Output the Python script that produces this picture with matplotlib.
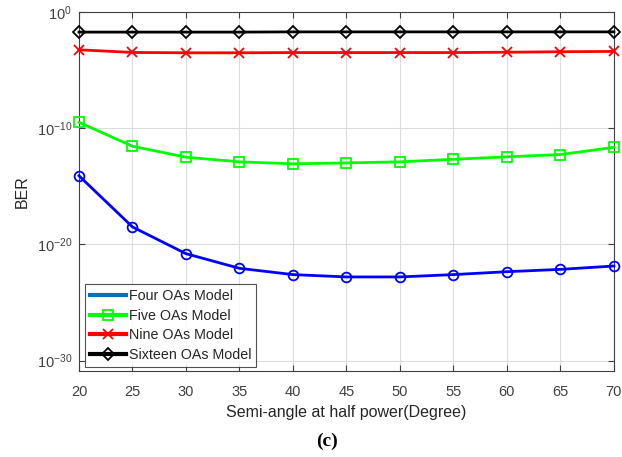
import numpy as np
import matplotlib
matplotlib.use("Agg")
import matplotlib.pyplot as plt
from matplotlib.lines import Line2D

angles = [20, 25, 30, 35, 40, 45, 50, 55, 60, 65, 70]
log_four = [-14.1, -18.5, -20.8, -22.06, -22.6, -22.8, -22.8, -22.6, -22.35, -22.15, -21.86]
log_five = [-9.5, -11.56, -12.5, -12.9, -13.07, -12.99, -12.9, -12.68, -12.47, -12.27, -11.65]
log_nine = [-3.26, -3.49, -3.52, -3.52, -3.5, -3.5, -3.5, -3.5, -3.47, -3.43, -3.4]
log_sixteen = [-1.74, -1.74, -1.74, -1.74, -1.72, -1.72, -1.72, -1.72, -1.72, -1.72, -1.72]
legend_labels = ["Four OAs Model", "Five OAs Model", "Nine OAs Model", "Sixteen OAs Model"]

plt.rcParams['font.family'] = ['Liberation Sans', 'DejaVu Sans']

fig = plt.figure(figsize=(6.22, 4.57), dpi=100)
ax = fig.add_axes([0.127, 0.189, 0.86, 0.785])

to_val = lambda a: 10.0 ** np.array(a)
lw = 2.0
ax.semilogy(angles, to_val(log_four), color='#0000ff', marker='o', ms=7, mfc='none', mew=1.3, lw=lw, clip_on=False, zorder=3)
ax.semilogy(angles, to_val(log_five), color='#00ff00', marker='s', ms=7, mfc='none', mew=1.3, lw=lw, clip_on=False, zorder=3)
ax.semilogy(angles, to_val(log_nine), color='#ff0000', marker='x', ms=7, mew=1.3, lw=lw, clip_on=False, zorder=3)
ax.semilogy(angles, to_val(log_sixteen), color='black', marker='D', ms=6, mfc='none', mew=1.3, lw=lw, clip_on=False, zorder=3)

ax.set_xlim(20, 70)
ax.set_ylim(10 ** -30.86, 1)
ax.set_xticks(angles)
ax.set_yticks([1e-30, 1e-20, 1e-10, 1e0])
ax.yaxis.set_minor_locator(matplotlib.ticker.NullLocator())
ax.grid(True, color='#dcdcdc', lw=0.8)
ax.set_axisbelow(True)
ax.tick_params(direction='in', top=True, right=True, labelsize=10.5, colors='#404040', length=4)
ax.tick_params(axis='x', pad=10)
ax.tick_params(axis='y', pad=5)
for s in ax.spines.values():
    s.set_color('#404040')
    s.set_linewidth(0.8)

ax.set_xlabel("Semi-angle at half power(Degree)", fontsize=11.5, color='#262626', labelpad=5)
ax.set_ylabel("BER", fontsize=11.5, color='#262626', labelpad=5)

handles = [
    Line2D([], [], color='#0072bd', lw=3),
    Line2D([], [], color='#00ff00', lw=3, marker='s', ms=7, mfc='none', mew=1.3),
    Line2D([], [], color='#ff0000', lw=3, marker='x', ms=7, mew=1.3),
    Line2D([], [], color='black', lw=3, marker='D', ms=6, mfc='none', mew=1.3),
]
leg = ax.legend(handles, legend_labels, loc='lower left', bbox_to_anchor=(0.011, 0.011),
                fontsize=10.3, frameon=True, fancybox=False, edgecolor='#262626',
                handlelength=2.5, handletextpad=0.2, borderpad=0.35, labelspacing=0.38,
                borderaxespad=0)
leg.get_frame().set_linewidth(0.8)
for t in leg.get_texts():
    t.set_color('#262626')

fig.text(0.525, 0.035, "(c)", ha='center', va='center', fontsize=14, fontweight='bold',
         family=['Liberation Serif', 'DejaVu Serif'])

fig.savefig("out.png", dpi=100)
